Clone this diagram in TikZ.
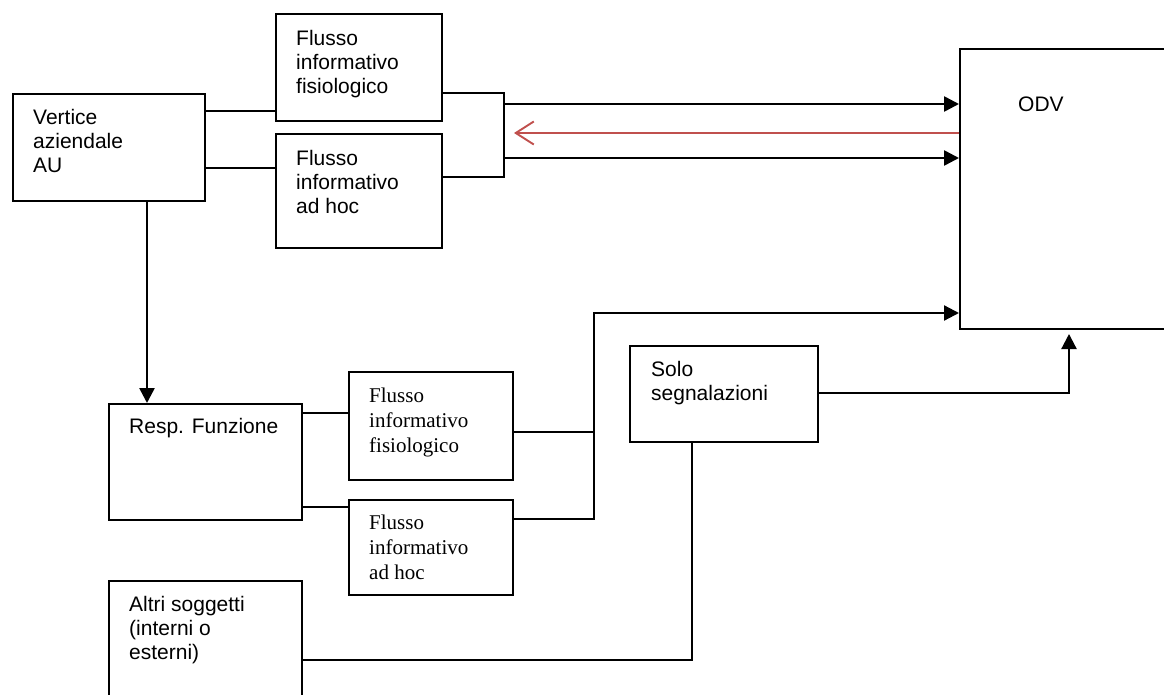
\documentclass[tikz,border=0pt]{standalone}
\usepackage{fontspec}
\setmainfont{Liberation Serif}
\setsansfont{Liberation Sans}
\usepackage{xcolor}
\usetikzlibrary{arrows.meta}

\definecolor{backred}{RGB}{192,80,77}

\begin{document}
\begin{tikzpicture}[
  x=1pt, y=-1pt,
  every node/.style={font=\sffamily\fontsize{21}{24}\selectfont},
  blockbox/.style={rectangle, draw, line width=1.7pt, anchor=north west,
    inner sep=0pt},
  txt/.style={anchor=north west, align=left, inner sep=0pt,
    xshift=21pt, yshift=-16pt},
  serif/.style={font=\rmfamily\fontsize{21}{25}\selectfont},
  conn/.style={line width=1.8pt},
  arr/.style={-{Triangle[length=15pt,width=15pt]}, line width=2.6pt},
  back/.style={-{Straight Barb[length=18pt,width=23pt]}, line width=1.9pt,
    draw=backred},
]
\useasboundingbox (0,0) rectangle (1164,695);

% Blocks
\node[blockbox, minimum width=192pt, minimum height=107pt,
  label={[txt]north west:{Vertice\\aziendale\\AU}}] (vert) at (12,93) {};

\node[blockbox, minimum width=166pt, minimum height=107pt,
  label={[txt, yshift=-1pt]north west:{Flusso\\informativo\\fisiologico}}] (ffis) at (275,13) {};

\node[blockbox, minimum width=166pt, minimum height=114pt,
  label={[txt, yshift=-1pt]north west:{Flusso\\informativo\\ad hoc}}] (fadh) at (275,133) {};

\node[blockbox, minimum width=240pt, minimum height=280pt,
  label={[anchor=north west, inner sep=0pt, xshift=59pt, yshift=-49pt]north west:ODV}] (odv) at (959,48) {};

\node[blockbox, minimum width=193pt, minimum height=116pt,
  label={[txt, yshift=1pt]north west:{Resp. Funzione}}] (resp) at (108,403) {};

\node[blockbox, minimum width=164pt, minimum height=108pt,
  label={[txt, serif, yshift=-1pt]north west:{Flusso\\informativo\\fisiologico}}] (mfis) at (348,371) {};

\node[blockbox, minimum width=164pt, minimum height=95pt,
  label={[txt, serif]north west:{Flusso\\informativo\\ad hoc}}] (madh) at (348,499) {};

\node[blockbox, minimum width=188pt, minimum height=96pt,
  label={[txt, xshift=1pt]north west:{Solo\\segnalazioni}}] (solo) at (629,345) {};

\node[blockbox, minimum width=193pt, minimum height=130pt,
  label={[txt]north west:{Altri soggetti\\(interni o\\esterni)}}] (altri) at (108,580) {};

% Junction points
\coordinate (jtop) at (504,93);
\coordinate (jbot) at (504,177);
\coordinate (rtip) at (514,133);
\coordinate (bus) at (594,313);
\coordinate (up) at (1069,334);

% Top connectors
\draw[conn] (vert.east |- 0,111) -- (ffis.west |- 0,111);
\draw[conn] (vert.east |- 0,168) -- (fadh.west |- 0,168);
\draw[conn] (ffis.east |- jtop) -- (jtop) -- (jbot) -- (fadh.east |- jbot);
\draw[arr] (jtop |- 0,104) -- (odv.west |- 0,104);
\draw[arr] (jtop |- 0,158) -- (odv.west |- 0,158);
\draw[back] (odv.west |- rtip) -- (rtip);

% Lower connectors
\draw[arr] (vert.south -| 147,0) -- (resp.north -| 147,0);
\draw[conn] (resp.east |- 0,413) -- (mfis.west |- 0,413);
\draw[conn] (resp.east |- 0,507) -- (madh.west |- 0,507);
\draw[conn] (mfis.east |- 0,432) -- (bus |- 0,432);
\draw[arr, line width=2.2pt] (madh.east |- 0,519) -| (bus) -- (odv.west |- bus);
\draw[arr, line width=2.2pt] (solo.east |- 0,393) -| (up);
\draw[conn] (altri.east |- 0,660) -| (solo.south -| 692,0);

\end{tikzpicture}
\end{document}
